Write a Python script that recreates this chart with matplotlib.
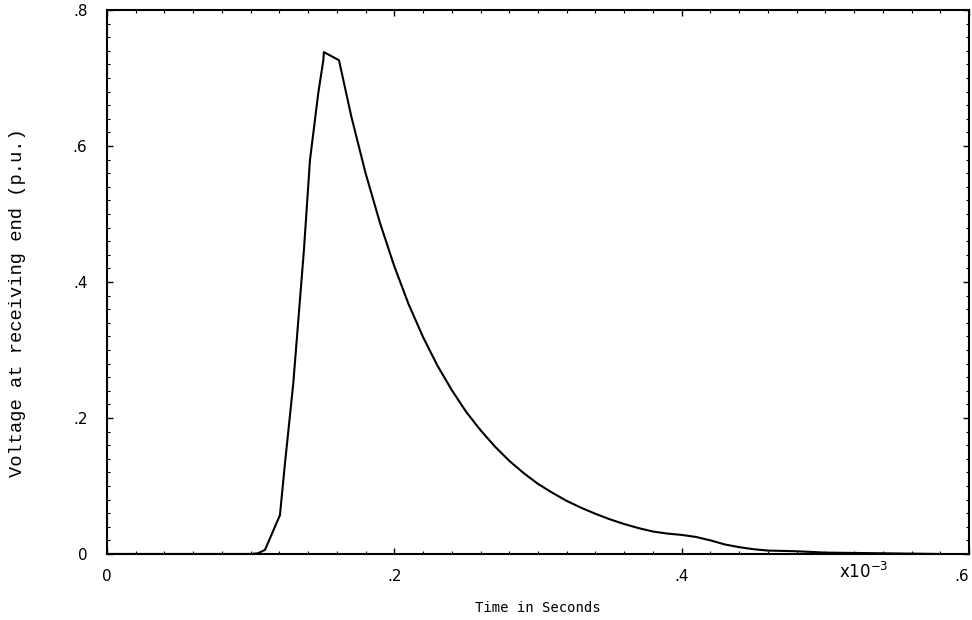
import numpy as np
import matplotlib
matplotlib.use("Agg")
import matplotlib.pyplot as plt
from matplotlib.ticker import FuncFormatter, MultipleLocator

# time in units of 1e-3 s, voltage in p.u.
time_ms = [0.0, 0.100, 0.105, 0.110, 0.1204, 0.1239, 0.1297, 0.1343, 0.1371,
           0.1413, 0.1471, 0.1506, 0.151, 0.1615, 0.170, 0.180, 0.190, 0.200,
           0.210, 0.220, 0.230, 0.240, 0.250, 0.260, 0.270, 0.280, 0.290,
           0.300, 0.310, 0.320, 0.330, 0.340, 0.350, 0.360, 0.370, 0.380,
           0.390, 0.400, 0.410, 0.420, 0.430, 0.440, 0.450, 0.460, 0.480,
           0.500, 0.540, 0.580]
voltage = [0.0, 0.0, 0.001, 0.006, 0.057, 0.133, 0.251, 0.373, 0.447,
           0.579, 0.678, 0.726, 0.738, 0.726, 0.644, 0.560, 0.487, 0.423,
           0.367, 0.319, 0.277, 0.241, 0.209, 0.182, 0.158, 0.137, 0.119,
           0.103, 0.090, 0.078, 0.068, 0.059, 0.051, 0.044, 0.038, 0.033,
           0.030, 0.028, 0.025, 0.020, 0.014, 0.010, 0.007, 0.005, 0.004,
           0.002, 0.001, 0.0]

xticks = [0, 0.2, 0.4, 0.6]
yticks = [0, 0.2, 0.4, 0.6, 0.8]


def strip_zero(v, pos):
    if abs(v) < 1e-9:
        return "0"
    return ("%.1f" % v).lstrip("0")


fig = plt.figure(figsize=(9.72, 6.2), dpi=100)
ax = fig.add_axes([0.110, 0.1065, 0.887, 0.8775])

ax.plot(time_ms, voltage, color="black", lw=1.5)

ax.set_xlim(0, 0.6)
ax.set_ylim(0, 0.8)
ax.set_xticks(xticks)
ax.set_yticks(yticks)
ax.xaxis.set_major_formatter(FuncFormatter(strip_zero))
ax.yaxis.set_major_formatter(FuncFormatter(strip_zero))
ax.xaxis.set_minor_locator(MultipleLocator(0.02))
ax.yaxis.set_minor_locator(MultipleLocator(0.02))
ax.tick_params(which="major", direction="in", length=4, width=1,
               top=True, right=True, labelsize=11, pad=11)
ax.tick_params(which="minor", direction="in", length=2, width=0.8,
               top=True, right=True)
ax.tick_params(axis="y", pad=14)
for sp in ax.spines.values():
    sp.set_linewidth(1.5)

fig.canvas.draw()
ax.get_xticklabels()[-1].set_horizontalalignment("right")

ax.text(0.878, -0.015, r"x10$^{-3}$", transform=ax.transAxes,
        ha="center", va="top", fontsize=12)

ax.set_xlabel("Time in Seconds", family="DejaVu Sans Mono", fontsize=10,
              labelpad=12)
fig.text(18 / 972, 1 - 303 / 620, "Voltage at receiving end (p.u.)",
         family="Liberation Mono", fontsize=13.5, rotation=90,
         ha="center", va="center")

fig.savefig("out.png", dpi=100)
